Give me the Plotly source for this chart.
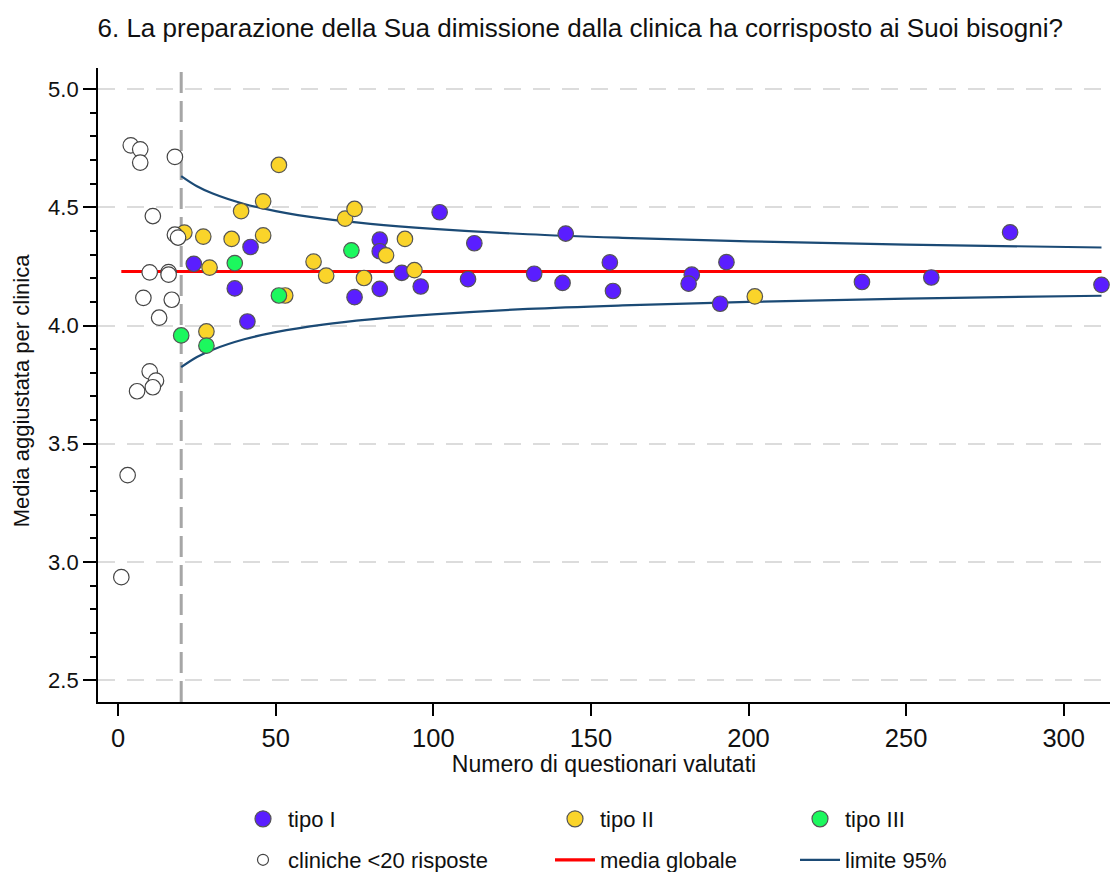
import plotly.graph_objects as go

# ---------------- data ----------------
TITLE = "6. La preparazione della Sua dimissione dalla clinica ha corrisposto ai Suoi bisogni?"
X_TITLE = "Numero di questionari valutati"
Y_TITLE = "Media aggiustata per clinica"

# tipo I (purple)
n_tipo1 = [24, 37, 42, 41, 83, 83, 83, 75, 90, 96, 102, 111, 113, 132, 142, 141,
           156, 157, 182, 181, 193, 191, 236, 258, 283, 312]
m_tipo1 = [4.261, 4.157, 4.332, 4.017, 4.363, 4.314, 4.155, 4.120, 4.223, 4.165,
           4.479, 4.196, 4.348, 4.219, 4.389, 4.180, 4.267, 4.146, 4.215, 4.177,
           4.268, 4.092, 4.184, 4.203, 4.394, 4.172]

# tipo II (yellow)
n_tipo2 = [21, 27, 36, 46, 39, 46, 51, 29, 28, 53, 62, 66, 72, 75, 78, 85, 91, 94, 202]
m_tipo2 = [4.393, 4.376, 4.366, 4.381, 4.484, 4.525, 4.679, 4.245, 3.975, 4.127,
           4.270, 4.211, 4.452, 4.493, 4.201, 4.297, 4.366, 4.234, 4.123]

# tipo III (green)
n_tipo3 = [20, 28, 37, 51, 74]
m_tipo3 = [3.958, 3.915, 4.264, 4.127, 4.318]

# cliniche <20 risposte (white)
n_small = [4, 7, 7, 18, 11, 18, 19, 10, 16, 16, 8, 17, 13, 10, 12, 11, 6, 3, 1]
m_small = [4.762, 4.745, 4.689, 4.713, 4.463, 4.384, 4.372, 4.225, 4.226, 4.215,
           4.117, 4.109, 4.033, 3.806, 3.767, 3.739, 3.722, 3.367, 2.936]

# global mean and 95% limits
media_globale = 4.228
soglia = 20
n_limite = [20, 25, 30, 40, 50, 65, 80, 100, 130, 160, 200, 250, 312]
lim_sup = [4.632, 4.589, 4.558, 4.514, 4.484, 4.452, 4.430, 4.409, 4.386, 4.371, 4.356, 4.342, 4.330]
lim_inf = [3.824, 3.867, 3.898, 3.942, 3.972, 4.004, 4.026, 4.047, 4.070, 4.085, 4.100, 4.114, 4.126]

x_ticks = [0, 50, 100, 150, 200, 250, 300]
y_ticks = [2.5, 3.0, 3.5, 4.0, 4.5, 5.0]
y_ticklabels = ["2.5", "3.0", "3.5", "4.0", "4.5", "5.0"]

# ---------------- styles ----------------
FONT = "Liberation Sans, Arial, sans-serif"
C1, C2, C3 = "#5A1EFF", "#FAD42A", "#1CF85E"
EDGE = "#555555"
RED = "#FF0000"
BLUE = "#1B4A75"
MS = 15.5

fig = go.Figure()

all_n = n_small + n_tipo1 + n_tipo2 + n_tipo3
fig.add_trace(go.Scatter(x=[min(all_n), max(all_n)], y=[media_globale, media_globale],
                         mode="lines", line=dict(color=RED, width=3),
                         showlegend=False, hoverinfo="skip"))
fig.add_trace(go.Scatter(x=n_limite, y=lim_sup, mode="lines", line_shape="spline",
                         line=dict(color=BLUE, width=2.2), showlegend=False, hoverinfo="skip"))
fig.add_trace(go.Scatter(x=n_limite, y=lim_inf, mode="lines", line_shape="spline",
                         line=dict(color=BLUE, width=2.2), showlegend=False, hoverinfo="skip"))

def pts(x, y, color, edge):
    return go.Scatter(x=x, y=y, mode="markers",
                      marker=dict(size=MS, color=color, line=dict(color=edge, width=1.2)),
                      showlegend=False, cliponaxis=False)

fig.add_trace(pts(n_tipo1, m_tipo1, C1, EDGE))
fig.add_trace(pts(n_tipo2, m_tipo2, C2, EDGE))
fig.add_trace(pts(n_tipo3, m_tipo3, C3, EDGE))
fig.add_trace(pts(n_small, m_small, "white", "#444444"))

# legend entries (one small legend per entry, laid out as a 3x2 grid)
leg_items = [
    ("tipo I", dict(mode="markers", marker=dict(size=16, color=C1, line=dict(color=EDGE, width=1.2)))),
    ("tipo II", dict(mode="markers", marker=dict(size=16, color=C2, line=dict(color=EDGE, width=1.2)))),
    ("tipo III", dict(mode="markers", marker=dict(size=16, color=C3, line=dict(color=EDGE, width=1.2)))),
    ("cliniche <20 risposte", dict(mode="markers", marker=dict(size=11, color="white", line=dict(color="#444444", width=1.2)))),
    ("media globale", dict(mode="lines", line=dict(color=RED, width=3.2))),
    ("limite 95%", dict(mode="lines", line=dict(color=BLUE, width=2.2))),
]
col_left_px = [238, 550, 795]
row_mid_px = [819, 860]
legend_layouts = {}
for i, (name, kw) in enumerate(leg_items):
    lname = "legend" if i == 0 else f"legend{i+1}"
    fig.add_trace(go.Scatter(x=[None], y=[None], name=name, showlegend=True,
                             legend=lname, **kw))
    legend_layouts[lname] = dict(x=col_left_px[i % 3] / 1110, y=1 - row_mid_px[i // 3] / 872,
                                 xref="container", yref="container",
                                 xanchor="left", yanchor="middle", orientation="v",
                                 font=dict(family=FONT, size=22, color="#111111"),
                                 bgcolor="rgba(0,0,0,0)", itemwidth=40,
                                 borderwidth=0)

fig.add_shape(type="line", xref="x", yref="paper", x0=soglia, x1=soglia, y0=0, y1=1,
              line=dict(color="#A6A6A6", width=3, dash="21px,8px"), layer="below")

PLOT_L, PLOT_W = 98, 1110 - 98
fig.add_annotation(text=Y_TITLE, textangle=-90, xref="paper", yref="paper",
                   x=(21 - PLOT_L) / PLOT_W, y=0.49, xanchor="center", yanchor="middle",
                   showarrow=False, font=dict(family=FONT, size=22, color="#111111"))

fig.update_layout(
    width=1110, height=872,
    margin=dict(l=PLOT_L, r=0, t=68, b=170, autoexpand=False),
    paper_bgcolor="white", plot_bgcolor="white",
    font=dict(family=FONT, size=22, color="#111111"),
    title=dict(text=TITLE, x=97.5 / 1110, xref="container", xanchor="left",
               y=1 - 28 / 872, yref="container", yanchor="middle",
               font=dict(family=FONT, size=26, color="#111111")),
    **legend_layouts,
)

fig.update_xaxes(range=[-6.4, 314.7], tickmode="array", tickvals=x_ticks,
                 automargin=True,
                 showgrid=False, zeroline=False, showline=True, linecolor="black",
                 linewidth=1.8, ticks="outside", ticklen=12, tickwidth=1.8,
                 tickcolor="black", tickfont=dict(size=25.5),
                 title=dict(text=X_TITLE, font=dict(size=23), standoff=2))
fig.update_yaxes(range=[2.408, 5.089], tickmode="array", tickvals=y_ticks,
                 automargin=False,
                 ticktext=y_ticklabels, showgrid=True, gridcolor="#DCDCDC",
                 gridwidth=2, griddash="17px,12px", zeroline=False, showline=True,
                 linecolor="black", linewidth=1.8, ticks="outside", ticklen=13,
                 tickwidth=1.8, tickcolor="black", tickfont=dict(size=22),
                 minor=dict(dtick=0.1, ticks="outside", ticklen=6, tickwidth=1.5,
                            tickcolor="black", showgrid=False))

fig.write_html("out.html", config={"displayModeBar": False},
               post_script="document.body.style.margin='0';document.body.style.overflow='hidden';")
